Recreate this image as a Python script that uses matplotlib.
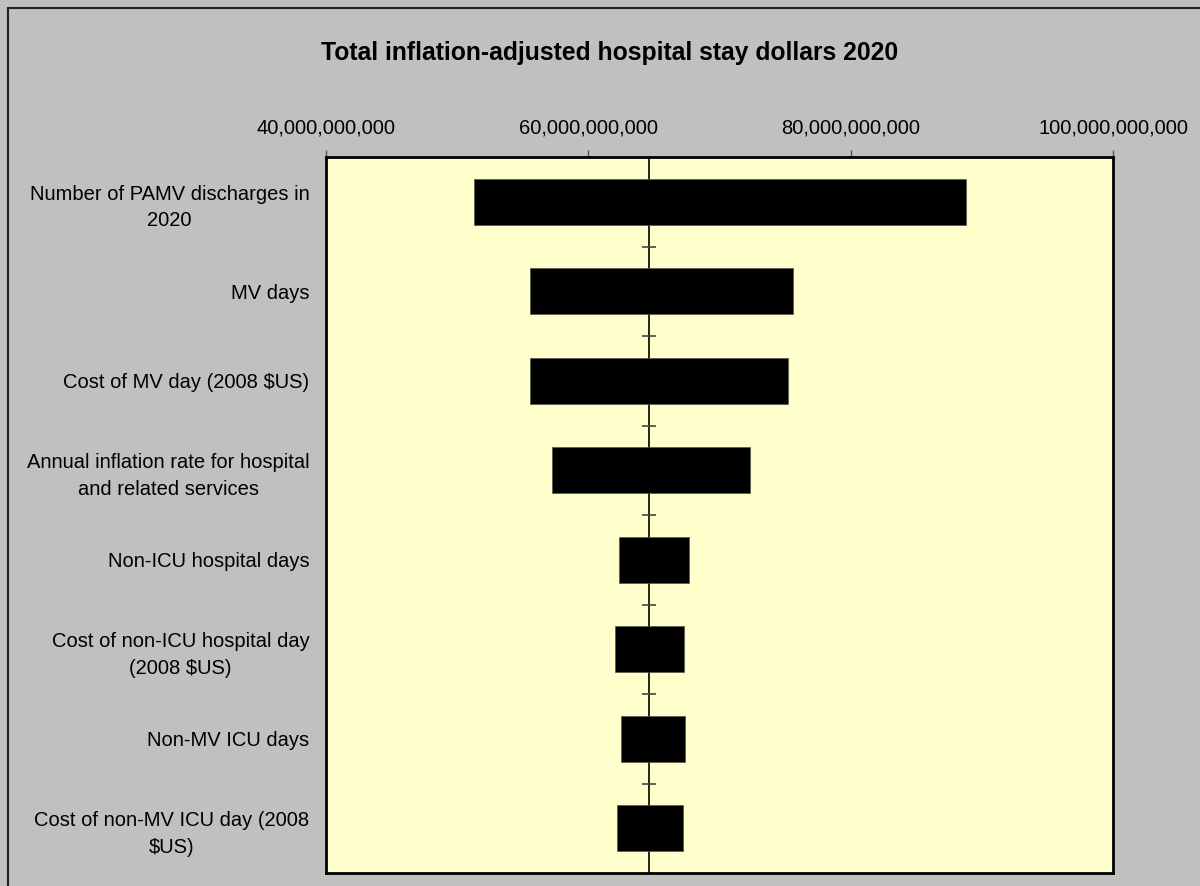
import matplotlib.pyplot as plt
from matplotlib.patches import Rectangle
from matplotlib.ticker import FuncFormatter

plt.rcParams['font.family'] = ['Liberation Sans', 'DejaVu Sans']

# data (billions of dollars)
labels = ['Number of PAMV discharges in\n2020', 'MV days', 'Cost of MV day (2008 $US)',
          'Annual inflation rate for hospital\nand related services', 'Non-ICU hospital days',
          'Cost of non-ICU hospital day\n(2008 $US)', 'Non-MV ICU days',
          'Cost of non-MV ICU day (2008\n$US)']
low = [51.3, 55.55, 55.55, 57.2, 62.3, 62.0, 62.5, 62.2]
high = [88.8, 75.6, 75.2, 72.3, 67.7, 67.3, 67.4, 67.2]
base = 64.6
xticks = [40, 60, 80, 100]

fig = plt.figure(figsize=(12, 8.86), dpi=100, facecolor='#C0C0C0')
ax = fig.add_axes([326/1200, 1 - 873/886, (1113-326)/1200, (873-157)/886])
ax.set_facecolor('#FFFFCC')

# outer chart border
fig.patches.append(Rectangle((8/1200, -0.1), 1.2, 1 - 8/886 + 0.1, transform=fig.transFigure,
                             fill=False, edgecolor='#222222', linewidth=1.5, zorder=0))

n = len(labels)
ypos = list(range(n))
widths = [h - l for l, h in zip(low, high)]
ax.barh(ypos, widths, left=low, height=0.51, color='black', edgecolor='#555544',
        linewidth=0.5, zorder=3)

# center axis line with category ticks
ax.axvline(base, color='black', linewidth=1.2, zorder=2)
bounds = [i + 0.5 for i in range(n - 1)]
ax.plot([base] * len(bounds), bounds, linestyle='none', marker='_', markersize=10,
        markeredgewidth=1.2, color='#444444', zorder=2)

ax.set_xlim(40, 100)
ax.set_ylim(n - 0.5, -0.5)
ax.set_yticks(ypos)
ax.set_yticklabels(labels, fontsize=14.5, multialignment='center', linespacing=1.5)
ax.tick_params(axis='y', length=0, pad=12)

ax.xaxis.tick_top()
ax.set_xticks(xticks)
ax.xaxis.set_major_formatter(FuncFormatter(lambda v, p: f'{int(v * 1e9):,}'))
ax.tick_params(axis='x', length=5, width=1, color='#555555', labelsize=14.5, pad=9)

for s in ax.spines.values():
    s.set_linewidth(2)
    s.set_color('black')

fig.text(610/1200, 1 - 53/886, 'Total inflation-adjusted hospital stay dollars 2020',
         ha='center', va='center', fontsize=17.8, fontweight='bold')

fig.savefig('out.png', dpi=100, facecolor=fig.get_facecolor())
